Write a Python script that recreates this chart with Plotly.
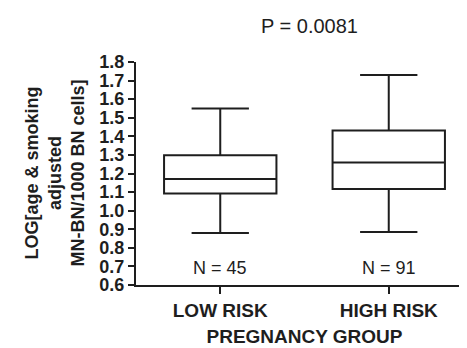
import plotly.graph_objects as go

categories = ["LOW RISK", "HIGH RISK"]
lower_whisker = [0.88, 0.885]
q1 = [1.093, 1.116]
median = [1.171, 1.259]
q3 = [1.298, 1.432]
upper_whisker = [1.55, 1.73]
n_labels = ["N = 45", "N = 91"]
y_ticks = [0.6, 0.7, 0.8, 0.9, 1.0, 1.1, 1.2, 1.3, 1.4, 1.5, 1.6, 1.7, 1.8]

FONT = "Liberation Sans, Arial, sans-serif"
INK = "#1e1e1e"

fig = go.Figure()
fig.add_trace(go.Box(
    x=categories,
    q1=q1, median=median, q3=q3,
    lowerfence=lower_whisker, upperfence=upper_whisker,
    width=0.667, whiskerwidth=0.51,
    fillcolor="white",
    line=dict(color=INK, width=2),
    boxpoints=False,
    showlegend=False,
    hoverinfo="skip",
))

for c, t in zip(categories, n_labels):
    fig.add_annotation(x=c, y=0.69, text=t, showarrow=False,
                       font=dict(family=FONT, size=18, color=INK),
                       xanchor="center", yanchor="middle")

fig.add_annotation(xref="paper", yref="paper", x=(301 - 128) / 337, y=1 + (54 - 18) / 223,
                   text="P = 0.0081", showarrow=False,
                   font=dict(family=FONT, size=20, color=INK),
                   xanchor="center", yanchor="middle")

fig.add_annotation(xref="paper", yref="paper", x=(47 - 128) / 337, y=0.5,
                   text="<b>LOG[age &amp; smoking<br>adjusted<br>MN-BN/1000 BN cells]</b>",
                   textangle=-90, showarrow=False,
                   font=dict(family=FONT, size=18, color=INK),
                   xanchor="center", yanchor="middle", align="center")

fig.update_layout(
    width=467, height=348,
    margin=dict(l=128, r=2, t=54, b=71),
    paper_bgcolor="white", plot_bgcolor="white",
    font=dict(family=FONT, color=INK),
    xaxis=dict(
        type="category", range=[-0.5, 1.5],
        showline=True, linecolor=INK, linewidth=2,
        ticks="outside", ticklen=7, tickwidth=2, tickcolor=INK,
        showgrid=False, zeroline=False,
        tickfont=dict(family=FONT, size=19, color=INK, weight="bold"),
        title=dict(text="<b>PREGNANCY GROUP</b>", font=dict(family=FONT, size=19, color=INK), standoff=10),
    ),
    yaxis=dict(
        range=[0.6, 1.8], tickvals=y_ticks,
        ticktext=[f"{v:.1f}" for v in y_ticks],
        showline=True, linecolor=INK, linewidth=2,
        ticks="outside", ticklen=6, tickwidth=2, tickcolor=INK,
        showgrid=False, zeroline=False,
        tickfont=dict(family=FONT, size=18, color=INK, weight="bold"),
    ),
)

fig.write_html("out.html")
